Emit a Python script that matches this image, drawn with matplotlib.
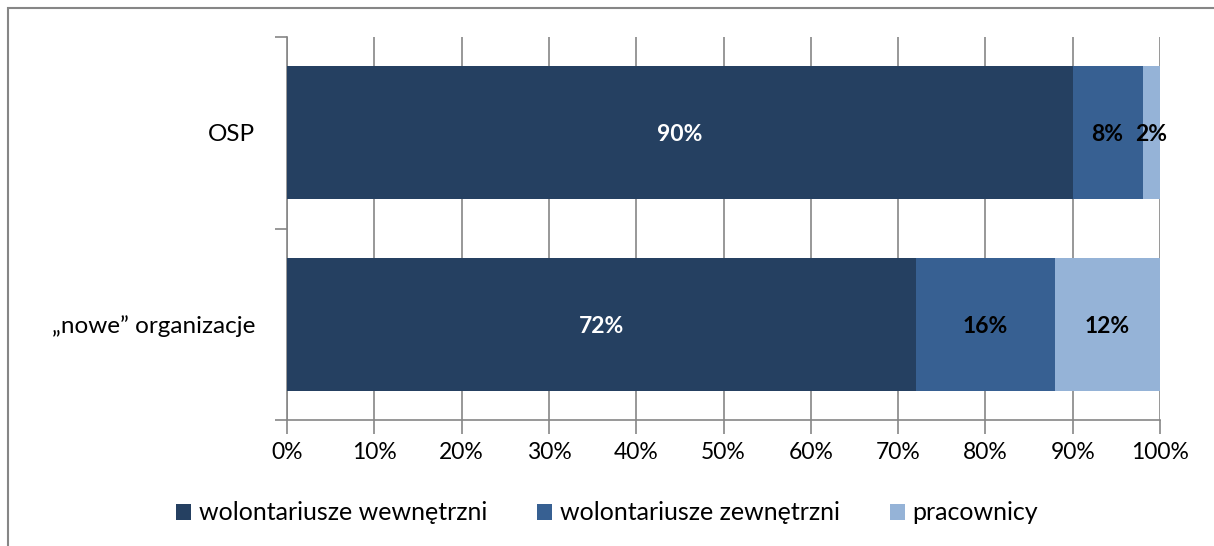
import matplotlib.pyplot as plt
from matplotlib.patches import Rectangle
import numpy as np

plt.rcParams["font.family"] = ["Lato", "DejaVu Sans"]

categories = ["\u201enowe\u201d organizacje", "OSP"]
series_names = ["wolontariusze wewn\u0119trzni", "wolontariusze zewn\u0119trzni", "pracownicy"]
values = {
    "wolontariusze wewn\u0119trzni": [72, 90],
    "wolontariusze zewn\u0119trzni": [16, 8],
    "pracownicy": [12, 2],
}
colors = ["#254061", "#376092", "#95B3D7"]
label_colors = ["white", "black", "black"]

W, H = 1214, 546
fig = plt.figure(figsize=(W / 100, H / 100), dpi=100)
fig.patches.append(Rectangle((8 / W, -0.1), 1.2, 1 - 8 / H + 0.1, transform=fig.transFigure,
                             fill=False, edgecolor="#868686", linewidth=1.5))

ax = fig.add_axes([287 / W, 1 - 420 / H, (1160 - 287) / W, (420 - 37) / H])
y = np.arange(len(categories))
left = np.zeros(len(categories))
for name, color, tcolor in zip(series_names, colors, label_colors):
    vals = np.array(values[name], dtype=float)
    ax.barh(y, vals, left=left, height=0.695, color=color, label=name, zorder=3)
    for yi, l, v in zip(y, left, vals):
        ax.text(l + v / 2, yi - 0.01, f"{int(v)}%", ha="center", va="center", color=tcolor,
                fontsize=16.5, fontweight="bold", zorder=4)
    left += vals

ax.set_xlim(0, 100)
ax.set_ylim(-0.5, 1.5)
ax.set_xticks(np.arange(0, 101, 10))
ax.set_xticklabels([f"{v}%" for v in range(0, 101, 10)], fontsize=16.5)
ax.set_yticks(y)
ax.set_yticklabels(categories, fontsize=17.5)
ax.tick_params(axis="y", length=0, pad=23)
ax.set_yticks([-0.5, 0.5, 1.5], minor=True)
ax.tick_params(axis="y", which="minor", length=9, color="#868686", width=1.2)
ax.tick_params(axis="x", length=10, color="#868686", width=1.2, pad=6)
ax.grid(axis="x", color="#868686", linewidth=1.2, zorder=0)
for s in ["top", "right"]:
    ax.spines[s].set_visible(False)
for s in ["left", "bottom"]:
    ax.spines[s].set_color("#868686")
    ax.spines[s].set_linewidth(1.2)

fig.legend(loc="center", bbox_to_anchor=(0.5, 1 - 513 / H), ncol=3, frameon=False,
           fontsize=18, handlelength=0.6, handleheight=0.6, handletextpad=0.3,
           columnspacing=2.0)

fig.savefig("out.png")
